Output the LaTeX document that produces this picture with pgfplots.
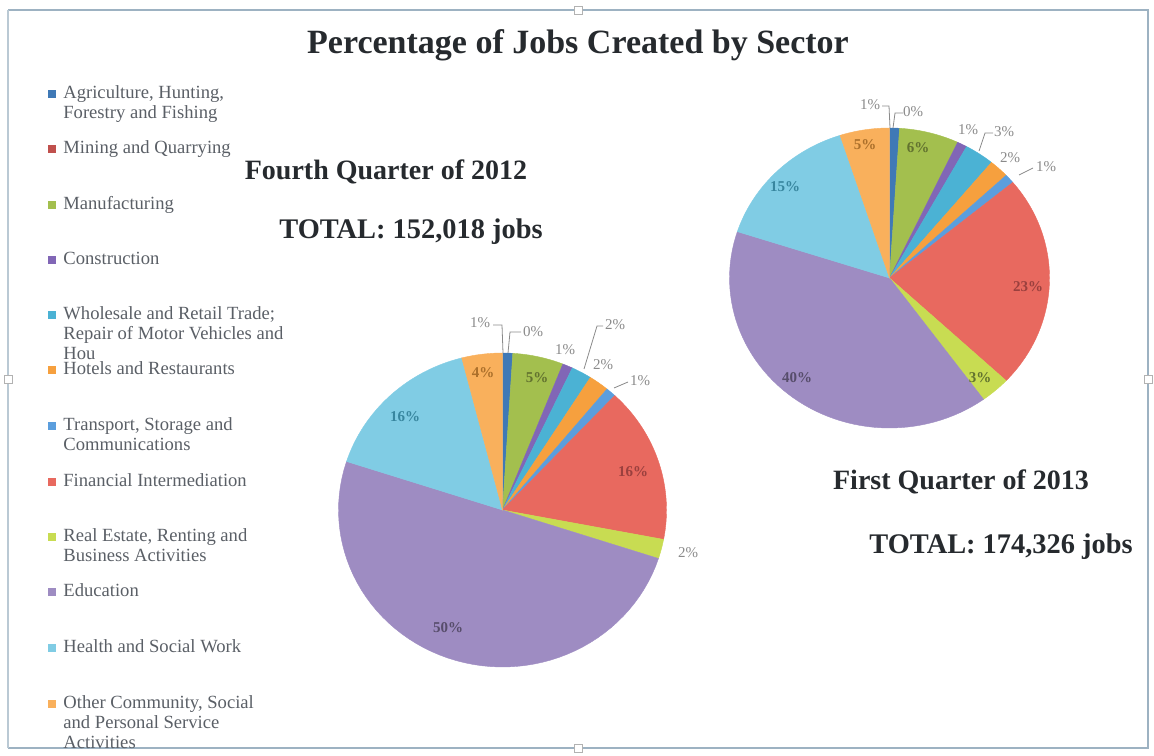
\documentclass[border=0pt]{standalone}
\usepackage{pgfplots}
\pgfplotsset{compat=1.18}
\usepackage{pgfplotstable}
\usepackage{fontspec}
\setmainfont{Liberation Serif}

% slice colours (Agriculture ... Other)
\definecolor{s0}{HTML}{3F79B6}
\definecolor{s1}{HTML}{C0504D}
\definecolor{s2}{HTML}{A3BF4E}
\definecolor{s3}{HTML}{8166B6}
\definecolor{s4}{HTML}{4BB2D4}
\definecolor{s5}{HTML}{F6A03E}
\definecolor{s6}{HTML}{5B9EDD}
\definecolor{s7}{HTML}{E8695F}
\definecolor{s8}{HTML}{C8DC52}
\definecolor{s9}{HTML}{9E8CC2}
\definecolor{s10}{HTML}{80CCE4}
\definecolor{s11}{HTML}{F9B05C}
\definecolor{framec}{HTML}{9DB2C2}
\definecolor{legtext}{HTML}{5A5F66}
\definecolor{titlec}{HTML}{262A2E}
\definecolor{lblgray}{HTML}{8A8A8A}

\tikzset{legnode/.style={anchor=north west, inner sep=0pt, align=left, text=legtext, font=\fontsize{9.3}{10}\selectfont}}

% Fourth quarter of 2012 (percent), clockwise from 12 o'clock
\pgfplotstableread{
value
1
0
5
1
2
2
1
16
2
50
16
4
}\qfour
% First quarter of 2013 (percent)
\pgfplotstableread{
value
1
0
6
1
3
2
1
23
3
40
15
5
}\qone

\newcommand\drawpie[5]{% #1 table, #2 cx, #3 cy, #4 rx, #5 ry
  \def\cum{0}%
  \pgfplotsforeachungrouped \i in {0,...,11}{%
    \pgfplotstablegetelem{\i}{value}\of{#1}%
    \let\v\pgfplotsretval
    \pgfmathsetmacro\a{\cum*3.6}%
    \pgfmathsetmacro\cum{\cum+\v}%
    \pgfmathsetmacro\b{\cum*3.6}%
    \ifdim\v pt>0pt
      \edef\temp{\noexpand\addplot[fill=s\i, draw=s\i, line width=0.2pt, domain=\a:\b, samples=60, variable=\noexpand\t] ({#2+#4*sin(\noexpand\t)},{#3+#5*cos(\noexpand\t)}) -- (axis cs:#2,#3) -- cycle;}%
      \temp
    \fi
  }%
}

\begin{document}
\begin{tikzpicture}
\begin{axis}[
  width=577pt, height=377.5pt, scale only axis,
  xmin=0, xmax=1154, ymin=0, ymax=755,
  hide axis, clip=false,
]
\path (axis cs:0,0) rectangle (axis cs:1154,755);
% frame
\draw[framec, line width=1.2pt] (axis cs:8,745) -- (axis cs:1148,745) -- (axis cs:1148,7) -- (axis cs:8,7);
\draw[framec!70, line width=0.6pt] (axis cs:8,7) -- (axis cs:8,745);
\foreach \hx/\hy in {578/745, 578/7, 8/376, 1148/376}{
  \edef\tmp{\noexpand\filldraw[fill=white, draw=gray!60, line width=0.4pt] (axis cs:\hx-4,\hy-4) rectangle (axis cs:\hx+4,\hy+4);}\tmp
}

% pies
\drawpie{\qfour}{502.5}{245}{164}{157}
\drawpie{\qone}{889.5}{477}{160}{150}

% titles
\node[font=\fontsize{17}{20}\selectfont\bfseries, text=titlec] at (axis cs:578,710) {Percentage of Jobs Created by Sector};
\node[font=\fontsize{14}{16}\selectfont\bfseries, text=titlec] at (axis cs:386,583) {Fourth Quarter of 2012};
\node[font=\fontsize{14.2}{16}\selectfont\bfseries, text=titlec] at (axis cs:411,523) {TOTAL: 152,018 jobs};
\node[font=\fontsize{14}{16}\selectfont\bfseries, text=titlec] at (axis cs:961,273) {First Quarter of 2013};
\node[font=\fontsize{14.2}{16}\selectfont\bfseries, text=titlec] at (axis cs:1001,208) {TOTAL: 174,326 jobs};

% legend
\foreach \ly/\c/\txt in {
  94/s0/{Agriculture, Hunting,\\Forestry and Fishing},
  149/s1/{Mining and Quarrying},
  205/s2/{Manufacturing},
  260/s3/{Construction},
  315/s4/{Wholesale and Retail Trade;\\Repair of Motor Vehicles and\\Hou},
  370/s5/{Hotels and Restaurants},
  426/s6/{Transport, Storage and\\Communications},
  482/s7/{Financial Intermediation},
  537/s8/{Real Estate, Renting and\\Business Activities},
  592/s9/{Education},
  648/s10/{Health and Social Work},
  704/s11/{Other Community, Social\\and Personal Service\\Activities}}{
  \pgfmathsetmacro\yy{755-\ly}
  \edef\tmp{\noexpand\fill[\c] (axis cs:48,\yy-4) rectangle (axis cs:56,\yy+4);
    \noexpand\node[legnode] at (axis cs:63,\yy+8.5) {\unexpanded\expandafter{\txt}};}\tmp
}

% labels, fourth quarter 2012
\begin{scope}[every node/.style={font=\fontsize{7.5}{8}\selectfont, inner sep=0pt}]
\draw[lblgray, line width=0.4pt] (axis cs:493,430) -- (axis cs:502,430) -- (axis cs:503,402);
\draw[lblgray, line width=0.4pt] (axis cs:521,423) -- (axis cs:510,423) -- (axis cs:508,402);
\draw[lblgray, line width=0.4pt] (axis cs:603,429) -- (axis cs:597,429) -- (axis cs:584,386);
\draw[lblgray, line width=0.4pt] (axis cs:628,373) -- (axis cs:614,367);
\node[text=lblgray] at (axis cs:480,432) {1\%};
\node[text=lblgray] at (axis cs:533,423) {0\%};
\node[text=s2!60!black, font=\fontsize{7.5}{8}\selectfont\bfseries] at (axis cs:537,377) {5\%};
\node[text=lblgray] at (axis cs:565,405) {1\%};
\node[text=lblgray] at (axis cs:615,430) {2\%};
\node[text=lblgray] at (axis cs:603,390) {2\%};
\node[text=lblgray] at (axis cs:640,374) {1\%};
\node[text=s1!80!black, font=\fontsize{7.5}{8}\selectfont\bfseries] at (axis cs:633,283) {16\%};
\node[text=lblgray] at (axis cs:688,202) {2\%};
\node[text=s9!55!black, font=\fontsize{7.5}{8}\selectfont\bfseries] at (axis cs:448,127) {50\%};
\node[text=s4!75!black, font=\fontsize{7.5}{8}\selectfont\bfseries] at (axis cs:405,338) {16\%};
\node[text=s5!70!black, font=\fontsize{7.5}{8}\selectfont\bfseries] at (axis cs:483,382) {4\%};
% labels, first quarter 2013
\draw[lblgray, line width=0.4pt] (axis cs:882,649) -- (axis cs:889,649) -- (axis cs:890,627);
\draw[lblgray, line width=0.4pt] (axis cs:903,642) -- (axis cs:895,642) -- (axis cs:893,627);
\draw[lblgray, line width=0.4pt] (axis cs:993,622) -- (axis cs:985,622) -- (axis cs:979,604);
\draw[lblgray, line width=0.4pt] (axis cs:1033,587) -- (axis cs:1019,580);
\node[text=lblgray] at (axis cs:870,650) {1\%};
\node[text=lblgray] at (axis cs:913,643) {0\%};
\node[text=s2!60!black, font=\fontsize{7.5}{8}\selectfont\bfseries] at (axis cs:918,607) {6\%};
\node[text=lblgray] at (axis cs:968,625) {1\%};
\node[text=lblgray] at (axis cs:1004,623) {3\%};
\node[text=lblgray] at (axis cs:1010,597) {2\%};
\node[text=lblgray] at (axis cs:1046,588) {1\%};
\node[text=s1!80!black, font=\fontsize{7.5}{8}\selectfont\bfseries] at (axis cs:1028,468) {23\%};
\node[text=s2!60!black, font=\fontsize{7.5}{8}\selectfont\bfseries] at (axis cs:980,377) {3\%};
\node[text=s9!55!black, font=\fontsize{7.5}{8}\selectfont\bfseries] at (axis cs:797,377) {40\%};
\node[text=s4!75!black, font=\fontsize{7.5}{8}\selectfont\bfseries] at (axis cs:785,568) {15\%};
\node[text=s5!70!black, font=\fontsize{7.5}{8}\selectfont\bfseries] at (axis cs:865,610) {5\%};
\end{scope}
\end{axis}
\end{tikzpicture}
\end{document}
